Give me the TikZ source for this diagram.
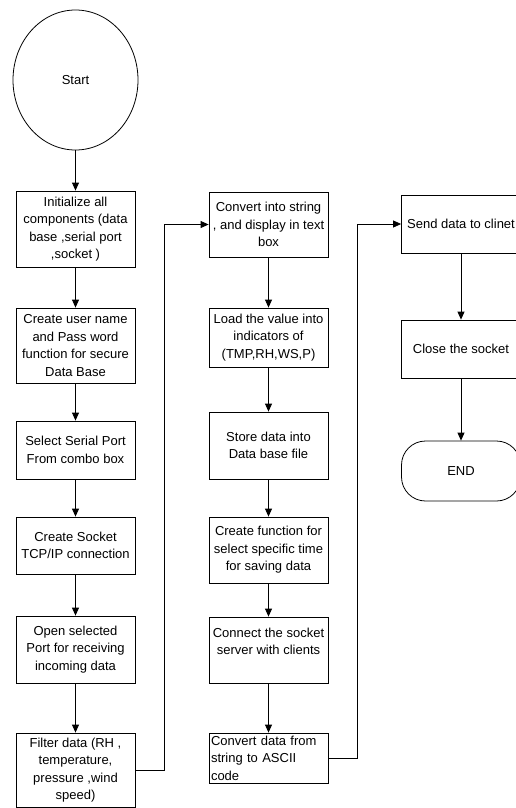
\documentclass[tikz,border=0pt]{standalone}
\usepackage{fontspec}
\setmainfont{Liberation Sans}
\usetikzlibrary{shapes.geometric,arrows.meta}
\tikzset{
  stepbox/.style={draw, rectangle, minimum width=119pt, inner sep=0pt, align=center, font=\fontsize{13}{17.5}\selectfont},
  flow/.style={line width=0.8pt, -{Triangle[width=7pt,length=8pt]}}
}
\begin{document}
\begin{tikzpicture}[x=1pt,y=-1pt,line width=0.8pt]
                \useasboundingbox (0,0) rectangle (515,808);
                %first column
                \node[draw, ellipse, minimum width=125pt, minimum height=140pt, inner sep=0pt, font=\fontsize{13}{17.5}\selectfont] (start) at (75.5,80) {Start};
                \node[stepbox, minimum height=76pt] (init) at (75.5,229) {Initialize all\\components (data\\base ,serial port\\,socket )};
                \node[stepbox, minimum height=75pt] (user) at (75.5,345.5) {Create user name\\and Pass word\\function for secure\\Data Base};
                \node[stepbox, minimum height=58pt] (serial) at (75.5,450) {Select Serial Port\\From combo box};
                \node[stepbox, minimum height=57pt] (sock) at (75.5,545.5) {Create Socket\\TCP/IP connection};
                \node[stepbox, minimum height=67pt] (open) at (75.5,649.5) {Open selected\\Port for receiving\\incoming data};
                \node[stepbox, minimum height=74pt] (filter) at (75.5,770) {Filter data (RH ,\\temperature,\\pressure ,wind\\speed)};
                %second column
                \node[stepbox, minimum height=65pt] (string) at (268.5,224.5) {Convert into string\\, and display in text\\box};
                \node[stepbox, minimum height=59pt] (load) at (268.5,337.5) {Load the value into\\indicators of\\(TMP,RH,WS,P)};
                \node[stepbox, minimum height=67pt] (store) at (268.5,445.5) {Store data into\\Data base file};
                \node[stepbox, minimum height=66pt] (timefn) at (268.5,550) {Create function for\\select specific time\\for saving data};
                \node[stepbox, minimum height=66pt] (server) at (268.5,650) {Connect the socket\\server with clients\\\mbox{}};
                \node[stepbox, minimum height=50pt, align=left, text width=115pt] (ascii) at (268.5,758) {Convert data from\\string to ASCII\\code};
                %third column
                \node[stepbox, minimum height=58pt] (send) at (461,224) {Send data to clinet};
                \node[stepbox, minimum height=58pt] (close) at (461,349) {Close the socket};
                \node[stepbox, minimum height=60pt, rounded corners=24pt] (fin) at (461,471) {END};
                %arrows
                \draw[flow] (start) -- (init);
                \draw[flow] (init) -- (user);
                \draw[flow] (user) -- (serial);
                \draw[flow] (serial) -- (sock);
                \draw[flow] (sock) -- (open);
                \draw[flow] (open) -- (filter);
                \draw[flow] (filter.east) -- ++(29,0) |- (string.west);
                \draw[flow] (string) -- (load);
                \draw[flow] (load) -- (store);
                \draw[flow] (store) -- (timefn);
                \draw[flow] (timefn) -- (server);
                \draw[flow] (server) -- (ascii);
                \draw[flow] (ascii.east) -- ++(29,0) |- (send.west);
                \draw[flow] (send) -- (close);
                \draw[flow] (close) -- (fin);
\end{tikzpicture}
\end{document}
